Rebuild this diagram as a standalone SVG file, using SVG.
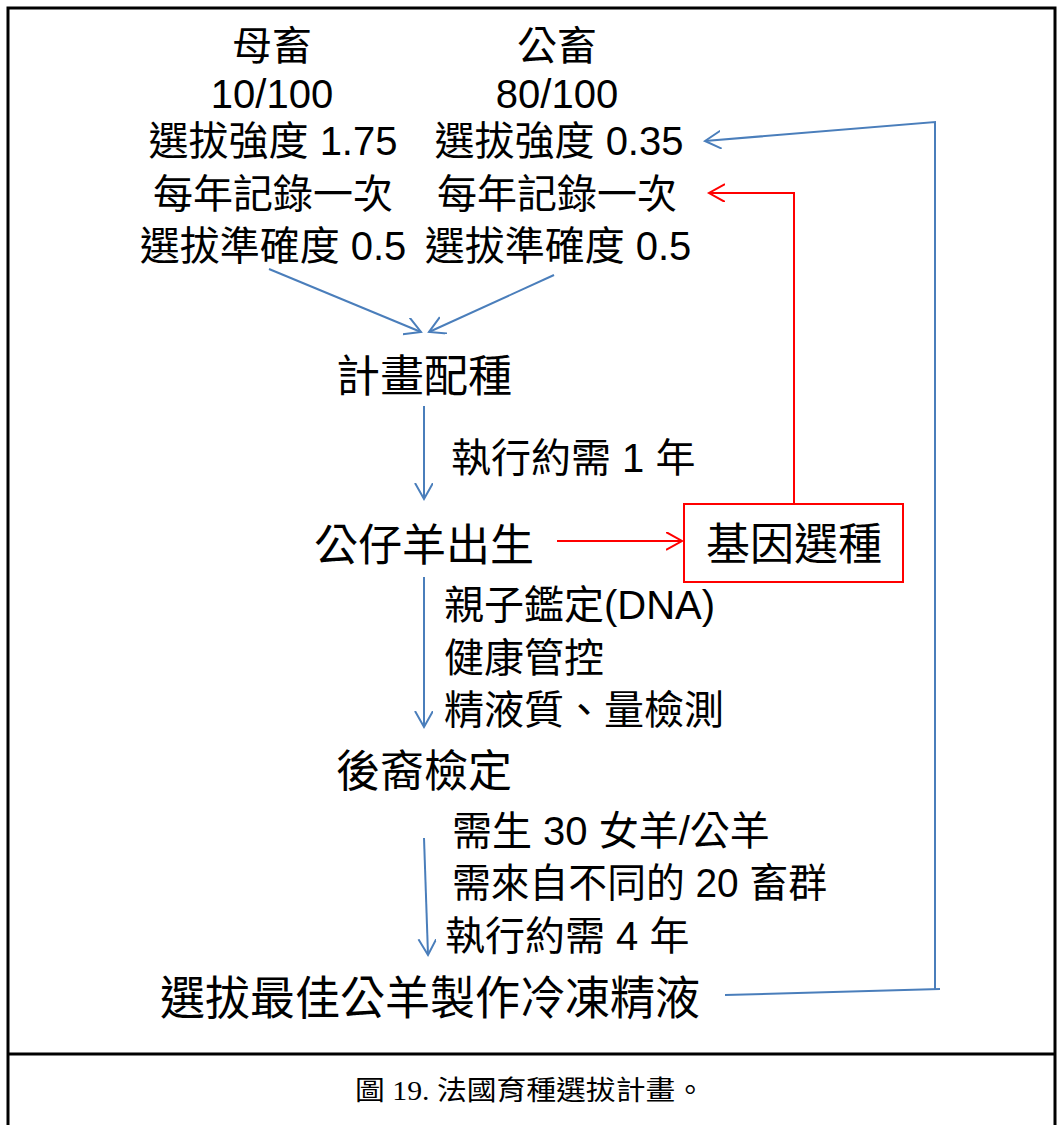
<svg xmlns="http://www.w3.org/2000/svg" width="1057" height="1125" viewBox="0 0 1057 1125">
<style>
.t{font-family:"Liberation Sans","Noto Sans CJK TC",sans-serif;fill:#000;}
.s40{font-size:40px;}
.s44{font-size:44px;}
.s48{font-size:46px;}
.cap{font-family:"Liberation Serif","Noto Sans CJK TC",serif;font-size:27px;fill:#000;}
.blue{stroke:#4A7EBB;stroke-width:2;fill:none;}
.red{stroke:#FF0000;stroke-width:2;fill:none;}
.frame{stroke:#000;stroke-width:3;fill:none;}
</style>
<defs>
<marker id="ab" markerUnits="userSpaceOnUse" markerWidth="22" markerHeight="22" refX="16" refY="9" orient="auto">
<path d="M0,0 L16,9 L0,18" fill="none" stroke="#4A7EBB" stroke-width="2"/>
</marker>
<marker id="ar" markerUnits="userSpaceOnUse" markerWidth="22" markerHeight="22" refX="16" refY="9" orient="auto">
<path d="M0,0 L16,9 L0,18" fill="none" stroke="#FF0000" stroke-width="2"/>
</marker>
</defs>
<rect width="1057" height="1125" fill="#fff"/>
<g id="frame">
<path class="frame" d="M8,1125 V8 H1055 V1125"/>
<line class="frame" x1="8" y1="1054" x2="1055" y2="1054"/>
</g>
<g id="dam">
<text class="t s40" x="272" y="60" text-anchor="middle">母畜</text>
<text class="t s40" x="272" y="108" text-anchor="middle">10/100</text>
<text class="t s40" x="273" y="155" text-anchor="middle">選拔強度 1.75</text>
<text class="t s40" x="273" y="208" text-anchor="middle">每年記錄一次</text>
<text class="t s40" x="273" y="260" text-anchor="middle">選拔準確度 0.5</text>
</g>
<g id="sire">
<text class="t s40" x="557" y="60" text-anchor="middle">公畜</text>
<text class="t s40" x="557" y="108" text-anchor="middle">80/100</text>
<text class="t s40" x="559" y="155" text-anchor="middle">選拔強度 0.35</text>
<text class="t s40" x="557" y="208" text-anchor="middle">每年記錄一次</text>
<text class="t s40" x="558" y="260" text-anchor="middle">選拔準確度 0.5</text>
</g>
<g id="mating">
<text class="t s44" x="424" y="392" text-anchor="middle">計畫配種</text>
</g>
<g id="label1">
<text class="t s40" x="451" y="472">執行約需 1 年</text>
</g>
<g id="birth">
<text class="t s44" x="424" y="561" text-anchor="middle">公仔羊出生</text>
</g>
<g id="genomic">
<rect x="684" y="504" width="219" height="78" fill="none" stroke="#FF0000" stroke-width="2"/>
<text class="t s44" x="794" y="560" text-anchor="middle">基因選種</text>
</g>
<g id="label2">
<text class="t s40" x="444" y="619">親子鑑定(DNA)</text>
<text class="t s40" x="444" y="672">健康管控</text>
<text class="t s40" x="444" y="724">精液質、量檢測</text>
</g>
<g id="progeny">
<text class="t s44" x="424" y="787" text-anchor="middle">後裔檢定</text>
</g>
<g id="label3">
<text class="t s40" x="452" y="845">需生 30 女羊/公羊</text>
<text class="t s40" x="452" y="897" textLength="375" lengthAdjust="spacingAndGlyphs">需來自不同的 20 畜群</text>
<text class="t s40" x="445" y="950">執行約需 4 年</text>
</g>
<g id="final">
<text class="t s48" x="160" y="1014" textLength="540" lengthAdjust="spacingAndGlyphs">選拔最佳公羊製作冷凍精液</text>
</g>
<g id="caption">
<text class="cap" x="530" y="1100" text-anchor="middle" textLength="350" lengthAdjust="spacingAndGlyphs">圖 19. 法國育種選拔計畫。</text>
</g>
<g id="connectors">
<line class="blue" x1="269" y1="269" x2="421" y2="332" marker-end="url(#ab)"/>
<line class="blue" x1="554" y1="275" x2="429" y2="332" marker-end="url(#ab)"/>
<line class="blue" x1="424" y1="406" x2="424" y2="499" marker-end="url(#ab)"/>
<line class="blue" x1="424" y1="577" x2="424" y2="727" marker-end="url(#ab)"/>
<line class="blue" x1="424" y1="838" x2="428" y2="955" marker-end="url(#ab)"/>
<polyline class="blue" points="725,995 940,989"/>
<polyline class="blue" points="935,989 935,122 705,141" marker-end="url(#ab)"/>
<line class="red" x1="557" y1="541" x2="682" y2="541" marker-end="url(#ar)"/>
<polyline class="red" points="794,504 794,193 709,193" marker-end="url(#ar)"/>
</g>
</svg>
